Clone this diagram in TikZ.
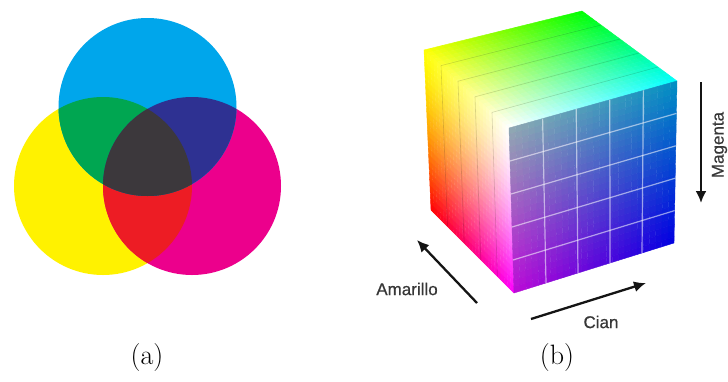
\documentclass[tikz,border=0pt]{standalone}
\usepackage{fontspec}
\newfontfamily\cubefont[FakeBold=0.6]{Liberation Sans}
\usetikzlibrary{arrows.meta}
\definecolor{cyanink}{RGB}{0,166,235}
\definecolor{yellowink}{RGB}{255,242,0}
\definecolor{magentaink}{RGB}{236,0,140}
\definecolor{greenink}{RGB}{0,166,81}
\definecolor{blueink}{RGB}{46,49,146}
\definecolor{redink}{RGB}{237,28,36}
\definecolor{darkink}{RGB}{60,56,60}
\definecolor{labelgrey}{RGB}{55,55,55}
\tikzset{
  x=1pt,y=-1pt,
  axisarrow/.style={line width=2.3pt,draw=black!92,-{Latex[length=12pt,width=11pt]}},
  cubelabel/.style={font=\cubefont\fontsize{17}{19}\selectfont,text=labelgrey,inner sep=0pt},
  caption/.style={font=\fontsize{28}{30}\selectfont,inner sep=0pt,text=black},
  layerline/.style={line width=0.6pt,draw=black,draw opacity=0.15},
  gridline/.style={line width=1.2pt,draw=white,draw opacity=0.55}
}
\newcommand\setcorners[8]{\def\pax{#1}\def\pay{#2}\def\pbx{#3}\def\pby{#4}\def\pcx{#5}\def\pcy{#6}\def\pdx{#7}\def\pdy{#8}}
\newcommand\setcolsone[6]{\def\rca{#1}\def\gca{#2}\def\bca{#3}\def\rcb{#4}\def\gcb{#5}\def\bcb{#6}}
\newcommand\setcolstwo[6]{\def\rcc{#1}\def\gcc{#2}\def\bcc{#3}\def\rcd{#4}\def\gcd{#5}\def\bcd{#6}}
\newcommand\patchfill[1]{%
  \def\nn{26}%
  \foreach \i in {1,...,\nn}{%
    \foreach \j in {1,...,\nn}{%
      \pgfmathsetmacro\ua{(\i-1)/\nn}\pgfmathsetmacro\ub{\i/\nn}%
      \pgfmathsetmacro\va{(\j-1)/\nn}\pgfmathsetmacro\vb{\j/\nn}%
      \pgfmathsetmacro\um{(\ua+\ub)/2}\pgfmathsetmacro\vm{((\va+\vb)/2)^#1}%
      \pgfmathsetmacro\mr{((1-\um)*(1-\vm)*\rca+\um*(1-\vm)*\rcb+\um*\vm*\rcc+(1-\um)*\vm*\rcd)/255}%
      \pgfmathsetmacro\mg{((1-\um)*(1-\vm)*\gca+\um*(1-\vm)*\gcb+\um*\vm*\gcc+(1-\um)*\vm*\gcd)/255}%
      \pgfmathsetmacro\mb{((1-\um)*(1-\vm)*\bca+\um*(1-\vm)*\bcb+\um*\vm*\bcc+(1-\um)*\vm*\bcd)/255}%
      \definecolor{patchc}{rgb}{\mr,\mg,\mb}%
      \pgfmathsetmacro\xaa{(1-\ua)*(1-\va)*\pax+\ua*(1-\va)*\pbx+\ua*\va*\pcx+(1-\ua)*\va*\pdx}%
      \pgfmathsetmacro\yaa{(1-\ua)*(1-\va)*\pay+\ua*(1-\va)*\pby+\ua*\va*\pcy+(1-\ua)*\va*\pdy}%
      \pgfmathsetmacro\xba{(1-\ub)*(1-\va)*\pax+\ub*(1-\va)*\pbx+\ub*\va*\pcx+(1-\ub)*\va*\pdx}%
      \pgfmathsetmacro\yba{(1-\ub)*(1-\va)*\pay+\ub*(1-\va)*\pby+\ub*\va*\pcy+(1-\ub)*\va*\pdy}%
      \pgfmathsetmacro\xbb{(1-\ub)*(1-\vb)*\pax+\ub*(1-\vb)*\pbx+\ub*\vb*\pcx+(1-\ub)*\vb*\pdx}%
      \pgfmathsetmacro\ybb{(1-\ub)*(1-\vb)*\pay+\ub*(1-\vb)*\pby+\ub*\vb*\pcy+(1-\ub)*\vb*\pdy}%
      \pgfmathsetmacro\xab{(1-\ua)*(1-\vb)*\pax+\ua*(1-\vb)*\pbx+\ua*\vb*\pcx+(1-\ua)*\vb*\pdx}%
      \pgfmathsetmacro\yab{(1-\ua)*(1-\vb)*\pay+\ua*(1-\vb)*\pby+\ua*\vb*\pcy+(1-\ua)*\vb*\pdy}%
      \fill[patchc,draw=patchc,line width=0.4pt,line join=round] (\xaa,\yaa)--(\xba,\yba)--(\xbb,\ybb)--(\xab,\yab)--cycle;
    }}%
}
\begin{document}
\begin{tikzpicture}
\useasboundingbox (0,0) rectangle (728,381);
\fill[white] (0,0) rectangle (728,381);
% (a) subtractive circles
\coordinate (cc) at (147.5,107);
\coordinate (cy) at (103,186);
\coordinate (cm) at (192,186);
\def\rad{89}
\fill[yellowink] (cy) circle (\rad);
\fill[magentaink] (cm) circle (\rad);
\fill[cyanink] (cc) circle (\rad);
\begin{scope}\clip (cy) circle (\rad);\fill[redink] (cm) circle (\rad);\fill[greenink] (cc) circle (\rad);\end{scope}
\begin{scope}\clip (cm) circle (\rad);\fill[blueink] (cc) circle (\rad);\end{scope}
\begin{scope}\clip (cy) circle (\rad);\clip (cm) circle (\rad);\fill[darkink] (cc) circle (\rad);\end{scope}
% (b) cube faces
\setcorners{424}{50}{582}{11}{677}{81}{509}{128}
\setcolsone{255}{255}{0}{0}{255}{0}\setcolstwo{0}{255}{255}{255}{255}{255}
\patchfill{1}
\setcorners{424}{50}{509}{128}{514}{293}{431}{210}
\setcolsone{255}{255}{0}{255}{255}{255}\setcolstwo{255}{0}{255}{255}{0}{0}
\patchfill{1.5}
\setcorners{509}{128}{677}{81}{674}{243}{514}{293}
\setcolsone{145}{170}{178}{0}{145}{195}\setcolstwo{0}{0}{225}{190}{10}{215}
\patchfill{1}
% layer lines
\foreach \k in {1,2,3,4}{
  \pgfmathsetmacro\t{\k/5}
  \draw[layerline] (424+85*\t,50+78*\t) -- (582+95*\t,11+70*\t);
  \draw[layerline] (424+85*\t,50+78*\t) -- (431+83*\t,210+83*\t);
  \draw[gridline] (509+168*\t,128-47*\t) -- (514+160*\t,293-50*\t);
  \draw[gridline] (509+5*\t,128+165*\t) -- (677-3*\t,81+162*\t);
}
% arrows and labels
\coordinate (mS) at (701,82);\coordinate (mE) at (701,203);
\coordinate (aS) at (477,303);\coordinate (aE) at (417,240);
\coordinate (cS) at (531,319);\coordinate (cE) at (646,283);
\draw[axisarrow] (mS) -- (mE);
\draw[axisarrow] (aS) -- (aE);
\draw[axisarrow] (cS) -- (cE);
\node[cubelabel,rotate=90] (lm) at (719.5,145) {Magenta};
\node[cubelabel] (la) at (407,289) {Amarillo};
\node[cubelabel] (lc) at (601,322) {Cian};
\node[caption] (capa) at (147,358) {(a)};
\node[caption] (capb) at (557,358) {(b)};
\end{tikzpicture}
\end{document}
